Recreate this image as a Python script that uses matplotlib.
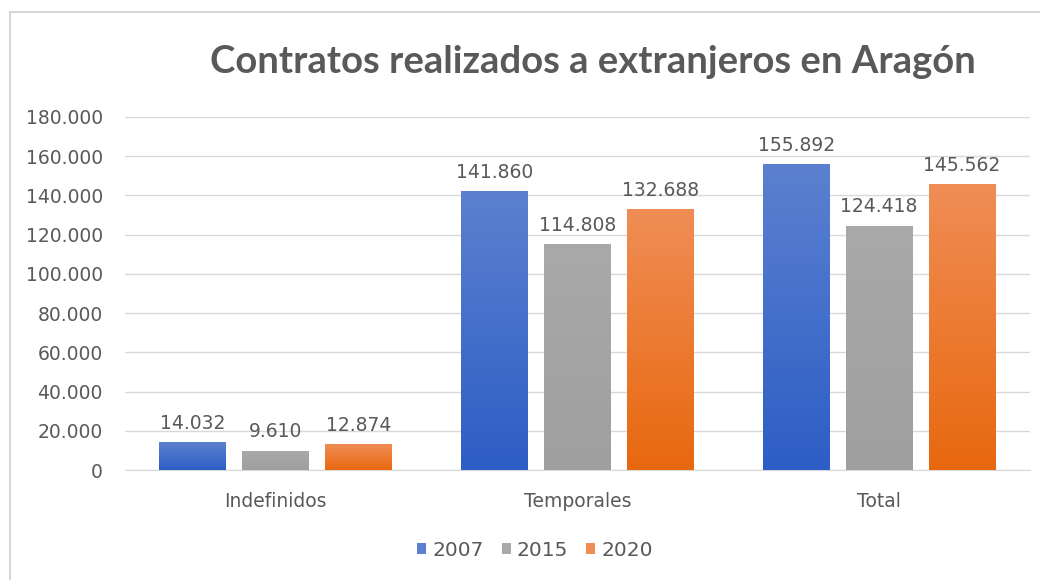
import numpy as np
import matplotlib.pyplot as plt
from matplotlib.patches import Rectangle
from matplotlib.colors import LinearSegmentedColormap

categorias = ["Indefinidos", "Temporales", "Total"]
anios = ["2007", "2015", "2020"]
v2007 = [14032, 141860, 155892]
v2015 = [9610, 114808, 124418]
v2020 = [12874, 132688, 145562]
yticks = [0, 20000, 40000, 60000, 80000, 100000, 120000, 140000, 160000, 180000]

GRIS = "#595959"
# (color de arriba, color de abajo) para imitar el degradado de Excel
colores = [("#5b80cf", "#2d5ec5"), ("#a9a9a9", "#9f9f9f"), ("#f08d55", "#e8680f")]


def miles(v):
    return "{:,}".format(v).replace(",", ".")


fig = plt.figure(figsize=(10.4, 5.8), dpi=100)
fig.patches.append(Rectangle((10 / 1040, -0.1), 1.2, (580 - 12) / 580 + 0.1,
                             transform=fig.transFigure, fill=False,
                             edgecolor="#d0d0d0", linewidth=1.2))
ax = fig.add_axes([125 / 1040, 110 / 580, 905 / 1040, 353 / 580])

x = np.arange(len(categorias))
w = 0.222
paso = 0.275
series = [v2007, v2015, v2020]
for i, (vals, (c_top, c_bot)) in enumerate(zip(series, colores)):
    cmap = LinearSegmentedColormap.from_list("g", [c_bot, c_top])
    pos = x + (i - 1) * paso
    bars = ax.bar(pos, vals, width=w, color=c_top, label=anios[i], zorder=2)
    for b, v in zip(bars, vals):
        grad = np.linspace(0, 1, 100).reshape(-1, 1)
        ax.imshow(grad, extent=(b.get_x(), b.get_x() + w, 0, v), origin="lower",
                  cmap=cmap, aspect="auto", zorder=3)
        ax.annotate(miles(v), (b.get_x() + w / 2, v), xytext=(0, 7),
                    textcoords="offset points", ha="center", va="bottom",
                    fontsize=13.5, color=GRIS)

ax.set_xlim(-0.5, 2.5)
ax.set_ylim(0, 180000)
ax.set_yticks(yticks)
ax.set_yticklabels([miles(t) for t in yticks])
ax.set_xticks(x)
ax.set_xticklabels(categorias)
ax.tick_params(axis="y", length=0, labelsize=13.5, labelcolor=GRIS, pad=16)
ax.tick_params(axis="x", length=0, labelsize=13.5, labelcolor=GRIS, pad=16)
ax.grid(axis="y", color="#d9d9d9", linewidth=1, zorder=0)
ax.set_axisbelow(True)
for s in ["top", "right", "left"]:
    ax.spines[s].set_visible(False)
ax.spines["bottom"].set_color("#d9d9d9")

fig.text(593 / 1040, 1 - 62 / 580, "Contratos realizados a extranjeros en Aragón",
         ha="center", va="center", fontsize=27.5, fontweight="bold", color=GRIS,
         family="Lato")

leg = fig.legend(loc="center", bbox_to_anchor=(535 / 1040, 30 / 580), ncol=3,
                 frameon=False, fontsize=14.5, handlelength=0.45, handleheight=0.45,
                 handletextpad=0.3, columnspacing=0.9)
for t in leg.get_texts():
    t.set_color(GRIS)

fig.savefig("out.png")
